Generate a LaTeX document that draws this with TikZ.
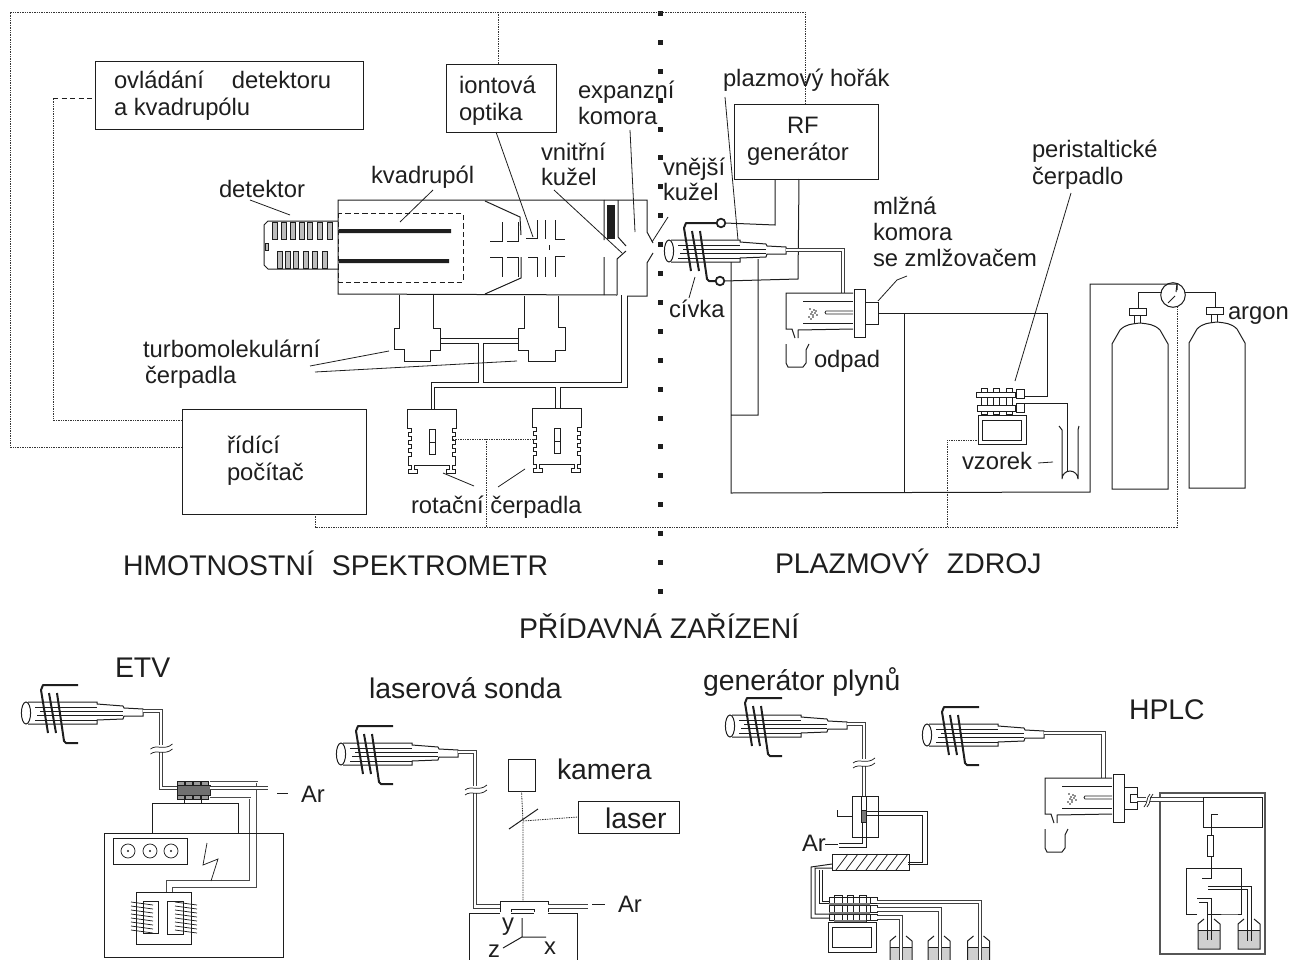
\documentclass[tikz,border=0pt]{standalone}
\usepackage{fontspec}
\setmainfont{Liberation Sans}
\definecolor{ink}{HTML}{1E1E1E}
\definecolor{liquid}{HTML}{CFCFCF}
\definecolor{fin}{HTML}{BDBDBD}
\definecolor{blockgray}{HTML}{707070}
\newcommand\bx[5]{\node[pbox,minimum width={(#4-#2)*.75pt},minimum height={(#5-#3)*.75pt}] (#1) at ({(#2+#4)/2},{(#3+#5)/2}) {};}
\tikzset{
  ln/.style={draw=ink,line width=.75pt,line join=miter},
  thn/.style={draw=ink,line width=.55pt},
  ldr/.style={draw=ink,line width=.6pt},
  pbox/.style={draw=ink,line width=.75pt,inner sep=0pt,outer sep=0pt,rectangle},
  pipe/.style={draw=ink!85,line width=.5pt,double=white,double distance=1.5pt},
  pipeb/.style={draw=ink!85,line width=.5pt,double=white,double distance=2.1pt},
  pipec/.style={draw=ink!80,line width=.45pt,double=white,double distance=.7pt},
  dotl/.style={draw=ink!90,line width=.6pt,dash pattern=on 1.1pt off .7pt},
  dashl/.style={draw=ink,line width=.6pt,dash pattern=on 4pt off 2.4pt},
  coilw/.style={draw=ink,line width=1.5pt,line join=round},
  lbl/.style={anchor=base west,inner sep=0pt,outer sep=0pt,text=ink,font=\fontsize{17.85}{20}\selectfont},
  big/.style={anchor=base west,inner sep=0pt,outer sep=0pt,text=ink,font=\fontsize{21.3}{24}\selectfont},
  pics/torch/.style={code={
    \draw[ln] (2,-11)--(71,-11)--(71,-9)--(97,-7)--(98,-5)--(117,-4)--(117,3)--(98,3)--(97,6)--(71,7)--(71,11)--(2,11);
    \draw[ln] (0,0) ellipse [x radius=4.6,y radius=11];
    \draw[thn] (9,-6)--(71,-6) (14,-2)--(97,-2) (11,2.3)--(97,2.3) (9,7)--(71,7);
    \draw[coilw] (23,-20)--(30,20) (31,-20)--(38,28)--(40,30)--(52,30) (52,-28)--(17,-28)--(15,-23)--(22,20);
  }},
  pics/breakmark/.style={code={
    \fill[white] (-10,-4) rectangle (10,3);
    \draw[thn] (-11,0) .. controls (-5,-5) and (3,2) .. (11,-5);
    \draw[thn] (-11,5) .. controls (-5,0) and (3,7) .. (11,0);
  }},
  pics/chamber/.style={code={
    \draw[ln] (67,0)--(0,0)--(0,36)--(6,36)--(9,45) (12,45)--(12,37)--(67,36);
    \draw[ln] (17,8)--(67,8) (17,30)--(67,30);
    \draw[thn] (67,18)--(40,18)--(39,19.5)--(40,21)--(67,21);
    \draw[ln] (68,-4) rectangle (79,44);
    \draw[ln] (79,9) rectangle (92,31);
    \draw[ln] (0,51)--(0,70)--(2,74)--(17,74)--(20,70)--(20,57)--(23,51);
    \foreach \a/\b in {24/16,26/19,28/17,25/21,29/20,27/22,30/18,23/24,27/24,31/22,25/26}{\fill[ink] (\a,\b) circle (.9);}
  }},
  pics/rotary/.style={code={
    \draw[ln,line width=.7pt] (0,19)--(0,0)--(49,0)--(49,19)--(45,19)--(45,23)--(48,23)--(48,27)--(45,27)--(45,31)--(48,31)--(48,35)--(45,35)--(45,39)--(48,39)--(48,43)--(45,43)--(45,47)--(48,47)--(48,56)--(45,56)--(45,60)--(48,60)--(48,64)--(39,64)--(39,60)--(42,60)--(42,56)--(7,56)--(7,60)--(10,60)--(10,64)--(1,64)--(1,60)--(4,60)--(4,56)--(1,56)--(1,47)--(4,47)--(4,43)--(1,43)--(1,39)--(4,39)--(4,35)--(1,35)--(1,31)--(4,31)--(4,27)--(1,27)--(1,23)--(4,23)--(4,19)--cycle;
    \draw[ln,line width=.7pt] (22,20) rectangle (28,45) (22,33)--(28,33);
  }},
  pics/bottle/.style={code={
    \fill[liquid] (-11,0) rectangle (11,#1);
    \draw[ln] (-11,#1)--(-11,-6)--(-5,-11) (5,-11)--(11,-6)--(11,#1);
    \draw[ln] (-11,0)--(11,0);
  }},
  pics/bottleclosed/.style={code={
    \fill[liquid] (-11,0) rectangle (11,19);
    \draw[ln] (-11,0)--(-11,19)--(11,19)--(11,0) (-11,0)--(-11,-6)--(-5,-11) (5,-11)--(11,-6)--(11,0);
    \draw[ln] (-11,0)--(11,0);
  }},
  pics/cylinder/.style={code={
    \draw[ln] (0,145)--(56,145)--(56,0)--(48,-14) .. controls (42,-20) and (36,-20) .. (28,-21) .. controls (20,-20) and (14,-20) .. (8,-14)--(0,0)--cycle;
    \draw[ln] (22,-21)--(22,-29) (28,-21)--(28,-29);
    \draw[ln] (17,-36) rectangle (34,-29);
  }},
}
\begin{document}
\begin{tikzpicture}[x=.75pt,y=-.75pt]
\useasboundingbox (0,0) rectangle (1293,960);
% central dotted axis
\foreach \i in {0,...,20}{\fill[ink] ({660-2.5},{13.4+28.9*\i-2.5}) rectangle ++(5,5);}
% text boxes
\bx{ctrl}{95}{61}{363}{129}
\bx{ionopt}{446}{64}{556}{132}
\bx{rfgen}{734}{104}{878}{179}
\bx{pc}{182}{409}{366}{514}
\node[lbl] (tctrl) at (114,88) {ovládání\hspace{21pt}detektoru};
\node[lbl] (tctrlb) at (114,115) {a kvadrupólu};
\node[lbl] (tion) at (459,93) {iontová};
\node[lbl] (tionb) at (459,120) {optika};
\node[lbl] (trf) at (787,133) {RF};
\node[lbl] (trfb) at (747,160) {generátor};
\node[lbl] (tpc) at (227,453) {řídící};
\node[lbl] (tpcb) at (227,480) {počítač};
% control wiring
\coordinate (wa) at (10,12); \coordinate (wb) at (805,12); \coordinate (wc) at (10,447);
\draw[dotl] (pc.west |- wc) -- (wc) -- (wa) -- (wb) -- (wb |- rfgen.north);
\draw[dotl] (498,12) -- (498 ,64);
\draw[dotl] (pc.west |- 0,420) -- (53,420) -- (53,98);
\draw[dashl] (53,98) -- (ctrl.west |- 0,98);
% spectrometer body
\draw[ln] (604,200)--(338,200)--(338,294)--(617,295);
\draw[ln] (604,200)--(647,200)--(647,232)--(653,243) (653,253)--(647,263)--(647,296)--(627,296);
\draw[ln] (604,200)--(604,240) (604,257)--(604,295) (618,200)--(618,237)--(626,246) (626,251)--(617,259)--(617,295);
\fill[ink] (607,205) rectangle (615,239);
\draw[dashl] (338,213) rectangle (463,282);
\fill[ink] (339,229) rectangle (451,233) (339,259) rectangle (449,263);
\draw[ln] (485,201)--(520,217)--(521,235) (485,294)--(521,278)--(521,257);
\draw[ln] (502,222)--(502,241)--(490,241) (518,222)--(518,241)--(507,241) (537,220)--(537,238)--(526,238) (545,220)--(545,239) (555,220)--(555,239)--(565,239);
\draw[ln] (490,257)--(502,257)--(502,277) (507,257)--(518,257)--(518,277) (528,257)--(537,257)--(537,277) (545,257)--(545,277) (565,256)--(555,256)--(555,277);
\draw[dashl] (549,245)--(549,250);
% detector
\draw[ln] (338,221)--(268,221)--(264,225)--(264,265)--(268,269)--(338,269);
\foreach \x in {272,281,290,299,307,317,327}{\draw[thn,fill=fin] (\x,222) rectangle ++(5,17);}
\foreach \x in {277,285,293,303,312,322}{\draw[thn,fill=fin] (\x,251) rectangle ++(5,17);}
\draw[thn,fill=fin] (265,243) rectangle (268,250);
% turbo pumps
\draw[ln] (399,295)--(399,328)--(394,328)--(394,349)--(404,349)--(404,361)--(430,361)--(430,350)--(440,350)--(440,328)--(433,328)--(433,295);
\draw[ln] (524,296)--(524,328)--(518,328)--(518,350)--(528,350)--(528,361)--(555,361)--(555,350)--(565,350)--(565,327)--(558,327)--(558,296);
\draw[ln] (440,338)--(518,338) (440,343)--(478,343)--(478,382)--(431,382)--(431,409) (518,343)--(483,343)--(483,382)--(621,382)--(621,295);
\draw[ln] (627,296)--(627,387)--(560,387)--(560,408) (555,408)--(555,387)--(434,387)--(434,409);
% rotary pumps
\pic at (407,409) {rotary};
\pic at (532,408) {rotary};
\draw[dotl] (453,439)--(535,439) (486,439)--(486,527);
\draw[dotl] (315,514)--(315,527)--(1177,527)--(1177,307);
\draw[dotl] (947,527)--(947,440)--(978,440);
% main torch
\pic at (669,251) {torch};
\draw[ln,fill=white,line width=1.3pt] (721,223) circle (4.3);
\draw[ln,fill=white,line width=1.3pt] (720,281) circle (4.3);
\draw[ln] (725,223)--(775,225)--(775,179) (724,281)--(798,279)--(799,179);
\draw[pipe] (786,250)--(843,250)--(843,293);
\draw[ln] (731,262)--(731,493)--(1090,492)--(1090,284)--(1177,284)--(1177,290) (758,259)--(758,415)--(731,415);
\pic at (786,293) {chamber};
\draw[ln] (878,313)--(1047,313)--(1047,396)--(1024,396) (904,313)--(904,492);
% peristaltic
\draw[ln] (1024,403)--(1067,403)--(1067,472);
\draw[ln] (981,388) rectangle (987,414) (993,388) rectangle (999,414) (1006,388) rectangle (1012,414);
\draw[ln,fill=white] (976,392) rectangle (1015,397);
\draw[ln,fill=white] (977,405) rectangle (1015,411);
\draw[ln] (1016,389) rectangle (1024,398) (1016,403) rectangle (1024,412);
\draw[ln] (978,415) rectangle (1026,444) (982,420) rectangle (1021,440);
\draw[ln] (1059,426)--(1062,430)--(1062,479) arc[start angle=180,end angle=360,radius=8] --(1078,430)--(1079,426);
% cylinders
\pic at (1112,344) {cylinder};
\pic at (1189,343) {cylinder};
\draw[ln] (1138,308)--(1138,292)--(1162,292) (1185,292)--(1215,292)--(1215,307);
\draw[ln] (1173,295) circle (12.3);
\draw[ln] (1168,303)--(1175,296) (1176,292)--(1177,284);
% leaders
\draw[ldr] (250,200)--(290,215) (433,190)--(400,222) (496,132)--(533,237) (554,190)--(622,253) (630,130)--(635,232) (668,217)--(652,242);
\draw[ldr] (725,97)--(738,240) (695,277)--(689,298) (878,301)--(897,280)--(907,276) (1071,193)--(1015,381) (1038,463)--(1053,462);
\draw[ldr] (310,366)--(389,351) (315,372)--(517,361) (443,473)--(474,486) (498,487)--(525,469);
% labels upper part
\node[lbl] (tdet) at (219,197) {detektor};
\node[lbl] (tkv) at (371,183) {kvadrupól};
\node[lbl] (texp) at (578,98) {expanzní};
\node[lbl] (texpb) at (578,124) {komora};
\node[lbl] (thor) at (723,86) {plazmový hořák};
\node[lbl] (tvni) at (541,160) {vnitřní};
\node[lbl] (tvnib) at (541,185) {kužel};
\node[lbl] (tvne) at (663,175) {vnější};
\node[lbl] (tvneb) at (663,200) {kužel};
\node[lbl] (tper) at (1032,157) {peristaltické};
\node[lbl] (tperb) at (1032,184) {čerpadlo};
\node[lbl] (tmlz) at (873,214) {mlžná};
\node[lbl] (tmlzb) at (873,240) {komora};
\node[lbl] (tmlzc) at (873,266) {se zmlžovačem};
\node[lbl] (tciv) at (669,317) {cívka};
\node[lbl] (todp) at (814,367) {odpad};
\node[lbl] (ttur) at (143,357) {turbomolekulární};
\node[lbl] (tturb) at (145,383) {čerpadla};
\node[lbl] (trot) at (411,513) {rotační čerpadla};
\node[lbl] (targ) at (1228,319) {argon};
\node[lbl] (tvzo) at (962,469) {vzorek};
\node[big] (thm) at (123,575) {HMOTNOSTNÍ\hspace{13.5pt}SPEKTROMETR};
\node[big] (tpl) at (775,573) {PLAZMOVÝ\hspace{13pt}ZDROJ};
\node[big] (tpr) at (519,638) {PŘÍDAVNÁ ZAŘÍZENÍ};
% ETV
\node[big] (tetv) at (115,677) {ETV};
\pic at (26,713) {torch};
\draw[pipeb] (143,711)--(161,711)--(161,788)--(177,788);
\pic at (161.5,749) {breakmark};
\foreach \x in {177,185,193,201}{\draw[thn,fill=blockgray!70] (\x,781) rectangle ++(7,4);\draw[thn,fill=blockgray!70] (\x,795) rectangle ++(7,4);}
\draw[thn,fill=blockgray] (177,785) rectangle (210,795);
\draw[pipec] (210,782)--(257,782)--(257,888)--(173,888)--(173,892) (210,798)--(250,798)--(250,881)--(167,881)--(167,892);
\draw[pipeb] (210,788)--(268,788);
\draw[ln] (184,799)--(184,803) (201,799)--(201,803);
\bx{etvup}{152}{803}{238}{833}
\bx{etvbig}{104}{833}{283}{957}
\bx{etvpanel}{113}{838}{187}{864}
\foreach \x in {128,150,171}{\draw[thn] (\x,851) circle (7);\fill[ink] (\x,851) circle (1.2);}
\draw[thn] (207,843)--(203,865)--(218,859)--(211,881);
\bx{etvtr}{136}{892}{191}{944}
\bx{etvl}{143}{901}{158}{933}
\bx{etvr}{167}{901}{183}{934}
\foreach \i in {0,...,7}{\draw[thn] (131,{902+4*\i})--(153,{905+4*\i}) (175,{902+4*\i})--(197,{905+4*\i});}
\draw[ldr] (277,793)--(288,793);
\node[lbl] (tar1) at (301,802) {Ar};
% laser probe
\node[big] (tlas) at (369,698) {laserová sonda};
\pic at (341,754) {torch};
\draw[pipeb] (458,752)--(475,752)--(475,906.5)--(500,906.5);
\pic at (476,790) {breakmark};
\draw[ln] (500,912)--(500,901)--(548,901)--(548,912);
\draw[ln] (511,912)--(511,909)--(534,909)--(534,912);
\draw[pipeb] (548,906.5)--(588,906.5);
\draw[ln] (469,960)--(469,913)--(500,913) (548,913)--(577,913)--(577,960) (511,913)--(534,913);
\draw[ln] (522,918)--(522,937)--(546,937) (522,937)--(503,948);
\node[lbl] (ty) at (502,930) {y};
\node[lbl] (tx) at (544,954) {x};
\node[lbl] (tz) at (488,957) {z};
\bx{cam}{508}{759}{535}{791}
\bx{lasr}{578}{801}{679}{833}
\node[big] (tkam) at (557,779) {kamera};
\node[big] (tlsr) at (605,828) {laser};
\coordinate (mirr) at (523,821);
\draw[ln] (509,829)--(538,809);
\draw[dotl] (cam.south)--(mirr)--(523,901) (mirr)--(lasr.west);
\draw[ldr] (592,904)--(605,904);
\node[lbl] (tar2) at (618,912) {Ar};
% gas generator
\node[big] (tgen) at (703,690) {generátor plynů};
\pic at (730,726) {torch};
\draw[pipeb] (847,724)--(864,724)--(864,796);
\pic at (864,763) {breakmark};
\bx{gasb}{852}{796}{878}{837}
\draw[ln] (861.5,796)--(861.5,810) (866,796)--(866,810);
\draw[ln,fill=ink!60] (861,810) rectangle (866,822);
\draw[ln] (862,822)--(862,843)--(839,843) (866,822)--(866,847)--(839,847);
\draw[ln] (837,810)--(837,816)--(852,816);
\draw[ln] (866,811.5)--(927,811.5)--(927,864)--(908,864);
\draw[ln] (866,815.5)--(922,815.5)--(922,862)--(908,862);
\draw[ldr] (825,844)--(838,844);
\node[lbl] (tar3) at (802,851) {Ar};
\bx{hatb}{832}{854}{909}{870}
\foreach \x in {836,846,...,896}{\draw[thn] (\x,870)--(\x+12,854);}
\draw[ln] (832,864)--(811,867)--(811,918)--(830,918) (832,868)--(815,868)--(815,914)--(830,914);
\draw[ln] (822,870)--(822,901)--(830,901) (819,870)--(819,903)--(830,903);
\foreach \x/\w in {834/8,847/6,859/7}{\draw[thn] (\x,895) rectangle ++(\w,27);}
\draw[ln] (829,897) rectangle (870,903) (829,905) rectangle (870,912) (829,914) rectangle (870,920);
\draw[ln] (870,897) rectangle (877,903) (870,905) rectangle (877,912) (870,914) rectangle (877,920);
\fill[ink!60] (829,903) rectangle (870,905) (829,912) rectangle (870,914) (834,920) rectangle (866,922);
\bx{gaspo}{828}{922}{876}{952}
\bx{gaspi}{832}{927}{871}{947}
\pic at (901,947) {bottle=13};
\pic at (939,947) {bottle=13};
\pic at (978.5,947) {bottle=13};
\draw[pipeb] (877,902)--(980,902)--(980,960) (877,909.5)--(940,909.5)--(940,960) (877,917.5)--(901,917.5)--(901,960);
% HPLC
\node[big] (thplc) at (1129,719) {HPLC};
\pic at (927,735) {torch};
\draw[pipeb] (1044,733)--(1103.5,733)--(1103.5,778);
\pic at (1045,778) {chamber};
\draw[ln] (1130,794) rectangle (1137,802);
\draw[ln,draw=ink!75,line width=1.1pt] (1160,793) rectangle (1265,954);
\bx{hplcp}{1203}{797}{1262}{827}
\draw[pipeb] (1137,799.5)--(1203,799.5);
\fill[white] (1146,793) rectangle (1150,807);
\draw[thn] (1144,807) .. controls (1148,803) and (1146,798) .. (1150,794);
\draw[thn] (1147,807) .. controls (1151,803) and (1149,798) .. (1153,794);
\draw[ln] (1218,814)--(1211,814)--(1211,835);
\bx{hplcr}{1207}{835}{1213}{856}
\draw[ln] (1211,856)--(1211,878)--(1202,878);
\draw[ln] (1197,914)--(1186,914)--(1186,868)--(1241,868)--(1241,914)--(1235,914)--(1207,914);
\pic at (1209,930) {bottleclosed};
\pic at (1249,930) {bottleclosed};
\draw[ln] (1197,898)--(1211,898)--(1211,940) (1199,902)--(1207,902)--(1207,940);
\draw[ln] (1208,886)--(1251,886)--(1251,941) (1208,889)--(1247,889)--(1247,941);
\end{tikzpicture}
\end{document}
